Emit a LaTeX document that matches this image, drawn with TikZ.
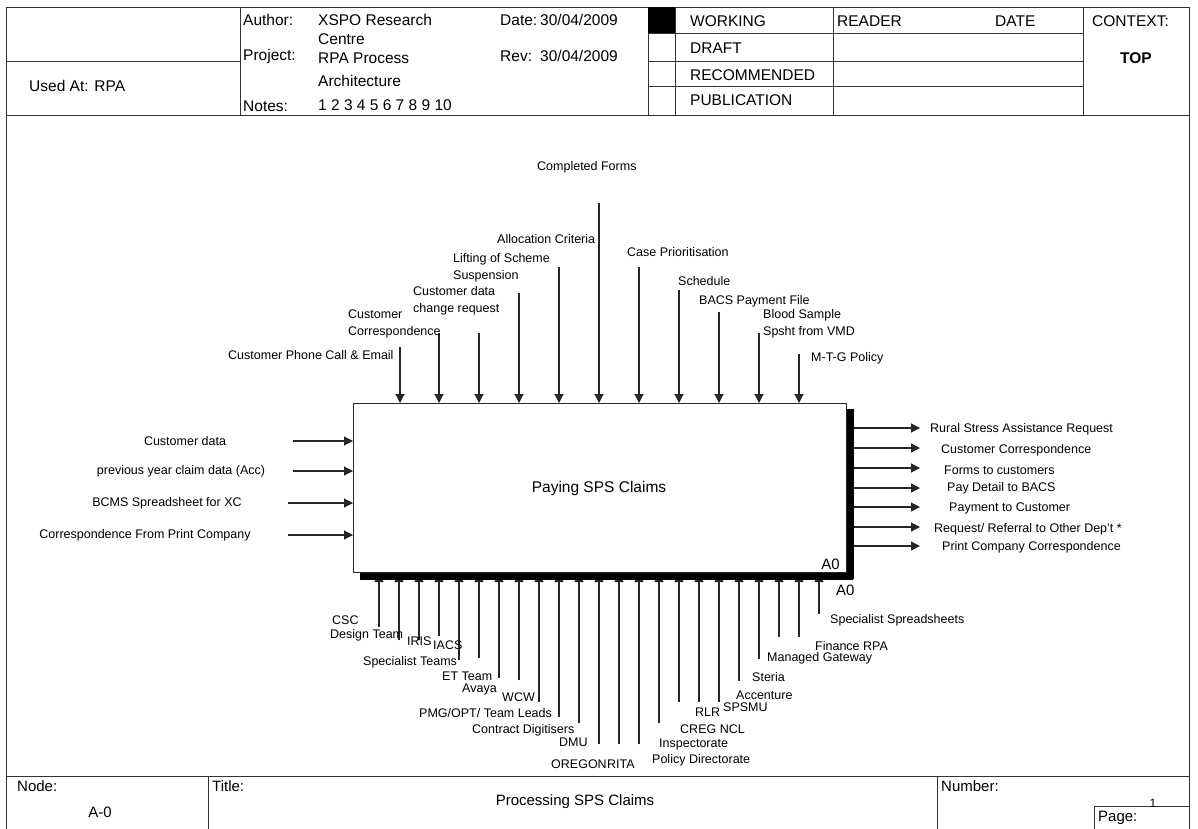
\documentclass[tikz,border=0pt]{standalone}
\usepackage{fontspec}
\setmainfont{Liberation Sans}
\usetikzlibrary{arrows.meta}
\begin{document}
\begin{tikzpicture}[x=1pt,y=-1pt,
  rule/.style={draw=black!80, line width=0.9pt},
  flow/.style={draw=black!85, line width=1.1pt, -{Triangle[length=9pt,width=9pt]}},
  lbl/.style={inner sep=0pt, anchor=west, align=left, font=\fontsize{12.5}{17}\selectfont},
  hdr/.style={inner sep=0pt, anchor=west, font=\fontsize{15.5}{18}\selectfont},
  ftr/.style={inner sep=0pt, anchor=west, font=\fontsize{15}{18}\selectfont},
  tag/.style={inner sep=0pt, font=\fontsize{15}{18}\selectfont}]
\fill[white] (0,0) rectangle (1198,828);
\useasboundingbox (0,0) rectangle (1198,828);

% ---------- form frame ----------
\draw[rule] (6,830) -- (6,7) -- (1189,7) -- (1189,830);
\draw[rule] (6,115) -- (1189,115);
\draw[rule] (6,776) -- (1189,776);

% header grid
\draw[rule] (240,7) -- (240,115);
\draw[rule] (6,61) -- (240,61);
\draw[rule] (648,7) -- (648,115);
\draw[rule] (675,7) -- (675,115);
\draw[rule] (833,7) -- (833,115);
\draw[rule] (1083,7) -- (1083,115);
\draw[rule] (648,33) -- (1083,33);
\draw[rule] (648,61) -- (1083,61);
\draw[rule] (648,86) -- (1083,86);
\fill (648,7) rectangle (675,33);

% footer grid
\draw[rule] (208,776) -- (208,830);
\draw[rule] (937,776) -- (937,830);
\draw[rule] (1094,830) -- (1094,806) -- (1189,806);

% header texts
\node[hdr] (usedat) at (29,86) {Used At: RPA};
\node[hdr] (author) at (243,20) {Author:};
\node[hdr] (authorv) at (318,20) {XSPO Research};
\node[hdr] (authorv2) at (318,39) {Centre};
\node[hdr] (project) at (243,56) {Project:};
\node[hdr] (projectv) at (318,58) {RPA Process};
\node[hdr] (projectv2) at (318,81) {Architecture};
\node[hdr] (notes) at (243,106) {Notes:};
\node[hdr] (notesv) at (318,105) {1 2 3 4 5 6 7 8 9 10};
\node[hdr] (date) at (500,20) {Date:};
\node[hdr] (datev) at (540,20) {30/04/2009};
\node[hdr] (rev) at (500,56) {Rev:};
\node[hdr] (revv) at (540,56) {30/04/2009};
\node[hdr] (working) at (690,21) {WORKING};
\node[hdr] (draft) at (690,48) {DRAFT};
\node[hdr] (recommended) at (690,75) {RECOMMENDED};
\node[hdr] (publication) at (690,100) {PUBLICATION};
\node[hdr] (reader) at (837,21) {READER};
\node[hdr] (rdate) at (995,21) {DATE};
\node[hdr] (context) at (1092,21) {CONTEXT:};
\node[hdr, anchor=center, font=\fontsize{15.5}{18}\selectfont\bfseries] (top) at (1136,58) {TOP};

% footer texts
\node[ftr] (node) at (17,786) {Node:};
\node[tag] (nodev) at (100,812) {A-0};
\node[ftr] (title) at (212,786) {Title:};
\node[tag] (titlev) at (575,802) {Processing SPS Claims};
\node[ftr] (number) at (941,786) {Number:};
\node[ftr] (page) at (1098,818) {Page:};
\node[inner sep=0pt, font=\fontsize{12}{14}\selectfont] (pagev) at (1153,803) {1};

% ---------- activity box ----------
\node[draw=black!85, line width=1pt, minimum width=493pt, minimum height=169pt,
      anchor=north west, inner sep=0pt] (box) at (353,403) {};
\node[tag, font=\fontsize{15.5}{18}\selectfont] (boxtitle) at (599,488) {Paying SPS Claims};
\node[tag, anchor=south east] (a0in) at (840,570) {A0};

% controls (top)
\foreach \x/\y [count=\i] in {400/347,439/333,479/333,519/293,559/267,599/203,
                              639/267,679/290,719/312,759/333,799/354}{
  \coordinate (c\i) at (\x,\y);
  \draw[flow] (c\i) -- (c\i |- box.north);
}
\node[lbl] (l-phone) at (228,355) {Customer Phone Call \& Email};
\node[lbl] (l-corr) at (348,323.5) {Customer\\Correspondence};
\node[lbl] (l-chg) at (413,301) {Customer data\\change request};
\node[lbl] (l-lift) at (453,268) {Lifting of Scheme\\Suspension};
\node[lbl] (l-alloc) at (497,239) {Allocation Criteria};
\node[lbl] (l-forms) at (537,167) {Completed Forms};
\node[lbl] (l-prio) at (627,252) {Case Prioritisation};
\node[lbl] (l-sched) at (678,281) {Schedule};
\node[lbl] (l-bacs) at (699,301) {BACS Payment File};
\node[lbl] (l-blood) at (763,323.5) {Blood Sample\\Spsht from VMD};
\node[lbl] (l-mtg) at (811,358) {M-T-G Policy};

% inputs (left)
\foreach \x/\y [count=\i] in {293/441,293/471,288/503,288/535}{
  \coordinate (i\i) at (\x,\y);
  \draw[flow] (i\i) -- (i\i -| box.west);
}
\node[lbl, anchor=center] (l-cdata) at (185,441) {Customer data};
\node[lbl, anchor=center] (l-prev) at (181,471) {previous year claim data (Acc)};
\node[lbl, anchor=center] (l-bcms) at (167,503) {BCMS Spreadsheet for XC};
\node[lbl, anchor=center] (l-print) at (145,535) {Correspondence From Print Company};

% outputs (right)
\foreach \y [count=\i] in {428,448,468,488,507,527,546}{
  \coordinate (o\i) at (920,\y);
  \draw[flow] (box.east |- o\i) -- (o\i);
}
\node[lbl] (r-rural) at (930,429) {Rural Stress Assistance Request};
\node[lbl] (r-corr) at (941,450) {Customer Correspondence};
\node[lbl] (r-forms) at (944,470) {Forms to customers};
\node[lbl] (r-pay) at (947,488) {Pay Detail to BACS};
\node[lbl] (r-paym) at (949,508) {Payment to Customer};
\node[lbl] (r-req) at (934,529) {Request/ Referral to Other Dep't *};
\node[lbl] (r-print) at (942,547) {Print Company Correspondence};

% mechanisms (bottom)
\foreach \x/\y [count=\i] in {379/627,399/640,419/640,439/636,459/660,479/658,
                              499/678,519/680,539/702,559/717,579/723,599/744,
                              619/744,639/744,659/723,679/702,699/702,719/702,
                              739/681,759/659,779/637,799/637,819/614}{
  \coordinate (m\i) at (\x,\y);
  \draw[flow] (m\i) -- (m\i |- box.south);
}

% box shadow
\fill (box.north east) ++(0,6) rectangle ++(7,170);
\fill (box.south west) ++(7,0) rectangle ++(493,7);
\node[tag, anchor=west] (a0out) at (836,590) {A0};

\node[lbl] (b-csc) at (332,620) {CSC};
\node[lbl] (b-design) at (330,635) {Design Team};
\node[lbl] (b-iris) at (407,641) {IRIS};
\node[lbl] (b-iacs) at (433,645) {IACS};
\node[lbl] (b-spec) at (363,662) {Specialist Teams};
\node[lbl] (b-et) at (442,676) {ET Team};
\node[lbl] (b-avaya) at (462,689) {Avaya};
\node[lbl] (b-wcw) at (502,697) {WCW};
\node[lbl] (b-pmg) at (419,713) {PMG/OPT/ Team Leads};
\node[lbl] (b-contract) at (472,730) {Contract Digitisers};
\node[lbl] (b-dmu) at (559,742) {DMU};
\node[lbl] (b-oregon) at (551,764) {OREGON};
\node[lbl] (b-rita) at (b-oregon.east) {RITA};
\node[lbl] (b-insp) at (659,744) {Inspectorate};
\node[lbl] (b-policy) at (652,760) {Policy Directorate};
\node[lbl] (b-creg) at (680,729) {CREG NCL};
\node[lbl] (b-rlr) at (695,712) {RLR};
\node[lbl] (b-spsmu) at (723,707) {SPSMU};
\node[lbl] (b-acc) at (736,695) {Accenture};
\node[lbl] (b-steria) at (752,677) {Steria};
\node[lbl] (b-mgw) at (767,658) {Managed Gateway};
\node[lbl] (b-fin) at (815,646) {Finance RPA};
\node[lbl] (b-sss) at (830,620) {Specialist Spreadsheets};
\end{tikzpicture}
\end{document}
